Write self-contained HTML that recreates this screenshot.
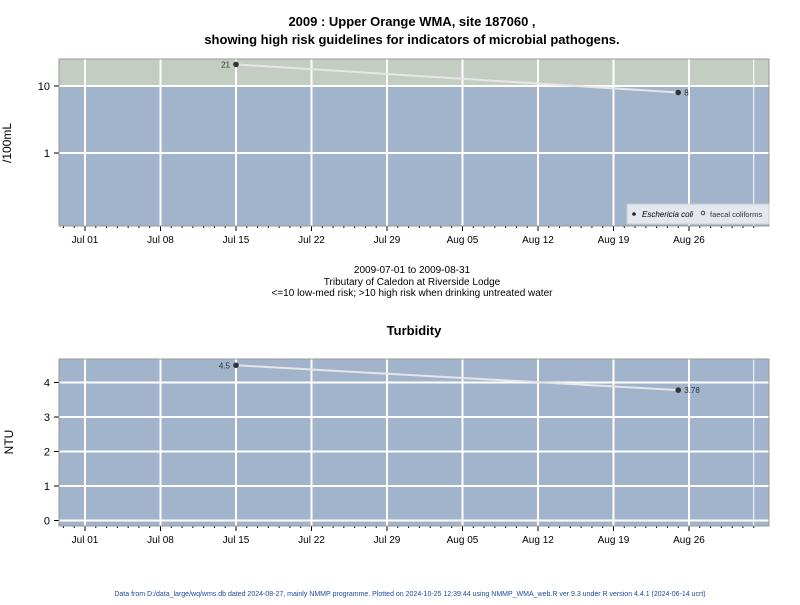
<!DOCTYPE html>
<html><head><meta charset="utf-8"><style>
body{margin:0;background:#fff;font-family:"Liberation Sans",Arial,sans-serif}
svg text{font-family:"Liberation Sans",Arial,sans-serif}
</style></head><body>
<svg id="c" width="800" height="600" xmlns="http://www.w3.org/2000/svg">
<text x="412" y="26" text-anchor="middle" font-size="13" font-weight="bold">2009 : Upper Orange WMA, site 187060 ,</text>
<text x="412" y="44" text-anchor="middle" font-size="13" font-weight="bold">showing high risk guidelines for indicators of microbial pathogens.</text>
<text x="412" y="273" text-anchor="middle" font-size="10">2009-07-01 to 2009-08-31</text>
<text x="412" y="285" text-anchor="middle" font-size="10">Tributary of Caledon at Riverside Lodge</text>
<text x="412" y="296" text-anchor="middle" font-size="10">&lt;=10 low-med risk; &gt;10 high risk when drinking untreated water</text>
<text x="414" y="335" text-anchor="middle" font-size="13" font-weight="bold">Turbidity</text>
<text x="11" y="143" transform="rotate(-90 11 143)" text-anchor="middle" font-size="12">/100mL</text>
<text x="13" y="442" transform="rotate(-90 13 442)" text-anchor="middle" font-size="12">NTU</text>
<text x="410" y="596" text-anchor="middle" font-size="7" fill="#1a4a9a">Data from D:/data_large/wq/wms.db dated 2024-08-27, mainly NMMP programme. Plotted on 2024-10-25 12:39:44 using NMMP_WMA_web.R ver 9.3 under R version 4.4.1 (2024-06-14 ucrt)</text>
<g id="p1"></g><g id="p2"></g>
</svg>
<script>
const tickLabels=["Jul 01","Jul 08","Jul 15","Jul 22","Jul 29","Aug 05","Aug 12","Aug 19","Aug 26"];
const tickDays=[0,7,14,21,28,35,42,49,56];
const ecoliDays=[14,55];
const ecoliValues=[21,8];
const turbDays=[14,55];
const turbValues=[4.5,3.78];
const ecoliTicks=[1,10];
const turbTicks=[0,1,2,3,4];
const NS="http://www.w3.org/2000/svg";
const L=59,R=769;
const xs=d=>85+d*(604/56);
function el(parent,tag,attrs,text){const e=document.createElementNS(NS,tag);for(const k in attrs)e.setAttribute(k,attrs[k]);if(text!==undefined)e.textContent=text;parent.appendChild(e);return e;}
function panel(g,top,bot,ys,ticks,days,vals,fmt,legend,band){
  let r=el(g,'rect',{x:L,y:top,width:R-L,height:bot-top,fill:'#a2b3cc'});
  
  
  if(band){let b=el(g,'rect',{x:L,y:top,width:R-L,height:ys(10)-top,fill:'#c3cdc2'});
    
    }
  tickDays.forEach((d,i)=>{
    let gl=el(g,'line',{x1:xs(d),x2:xs(d),y1:top,y2:bot,stroke:'#fff','stroke-width':2});
    
    
    el(g,'line',{x1:xs(d),x2:xs(d),y1:bot,y2:bot+5,stroke:'#000'});
    let t=el(g,'text',{x:xs(d),y:bot+17,'text-anchor':'middle','font-size':10},tickLabels[i]);
    
    
  });
  for(let d=-2;d<=63;d++){if(d%7)el(g,'line',{x1:xs(d),x2:xs(d),y1:bot,y2:bot+2,stroke:'#000'});}
  el(g,'line',{x1:xs(62),x2:xs(62),y1:top,y2:bot,stroke:'#fff','stroke-width':1});
  ticks.forEach(v=>{
    let gl=el(g,'line',{x1:L,x2:R,y1:ys(v),y2:ys(v),stroke:'#fff','stroke-width':2});
    
    
    el(g,'line',{x1:L-5,x2:L,y1:ys(v),y2:ys(v),stroke:'#000'});
    let t=el(g,'text',{x:L-9,y:ys(v)+4,'text-anchor':'end','font-size':11},String(v));
    
    
  });
  el(g,'rect',{x:L,y:top,width:R-L,height:bot-top,fill:'none',stroke:'#999'});
  let pts=days.map((d,i)=>xs(d)+','+ys(vals[i])).join(' ');
  let ln=el(g,'polyline',{points:pts,fill:'none',stroke:'#e6e6e6','stroke-width':2});
  
  
  days.forEach((d,i)=>{
    let c=el(g,'circle',{cx:xs(d),cy:ys(vals[i]),r:2.8,fill:'#333'});
    
    
    let first=i===0;
    let t=el(g,'text',{x:xs(d)+(first?-6:6),y:ys(vals[i])+3,'text-anchor':first?'end':'start','font-size':8,fill:first?'#333':'#1a3a8a'},fmt(vals[i]));
    if(!first)t.setAttribute('fill','#333');
    
    
  });
  if(legend){
    let lg=el(g,'g',{});
    
    
    el(lg,'rect',{x:627,y:204,width:142,height:20,fill:'#e3e7ee',stroke:'#c8ccd4'});
    el(lg,'circle',{cx:634,cy:214,r:1.8,fill:'#222'});
    let t1=el(lg,'text',{x:642,y:217,'font-size':8,'font-style':'italic'},'Eschericia coli');
    
    
    el(lg,'circle',{cx(){},cx:703,cy:213,r:1.8,fill:'none',stroke:'#222','stroke-width':0.8});
    let t2=el(lg,'text',{x:710,y:217,'font-size':7.5,fill:'#333'},'faecal coliforms');
    
    
  }
}
const ys1=v=>153-67*Math.log10(v);
const ys2=v=>520.5-34.5*v;
panel(document.getElementById('p1'),59,226,ys1,ecoliTicks,ecoliDays,ecoliValues,v=>String(v),true,true);
panel(document.getElementById('p2'),359,526,ys2,turbTicks,turbDays,turbValues,v=>String(v),false,false);
</script>
</body></html>
